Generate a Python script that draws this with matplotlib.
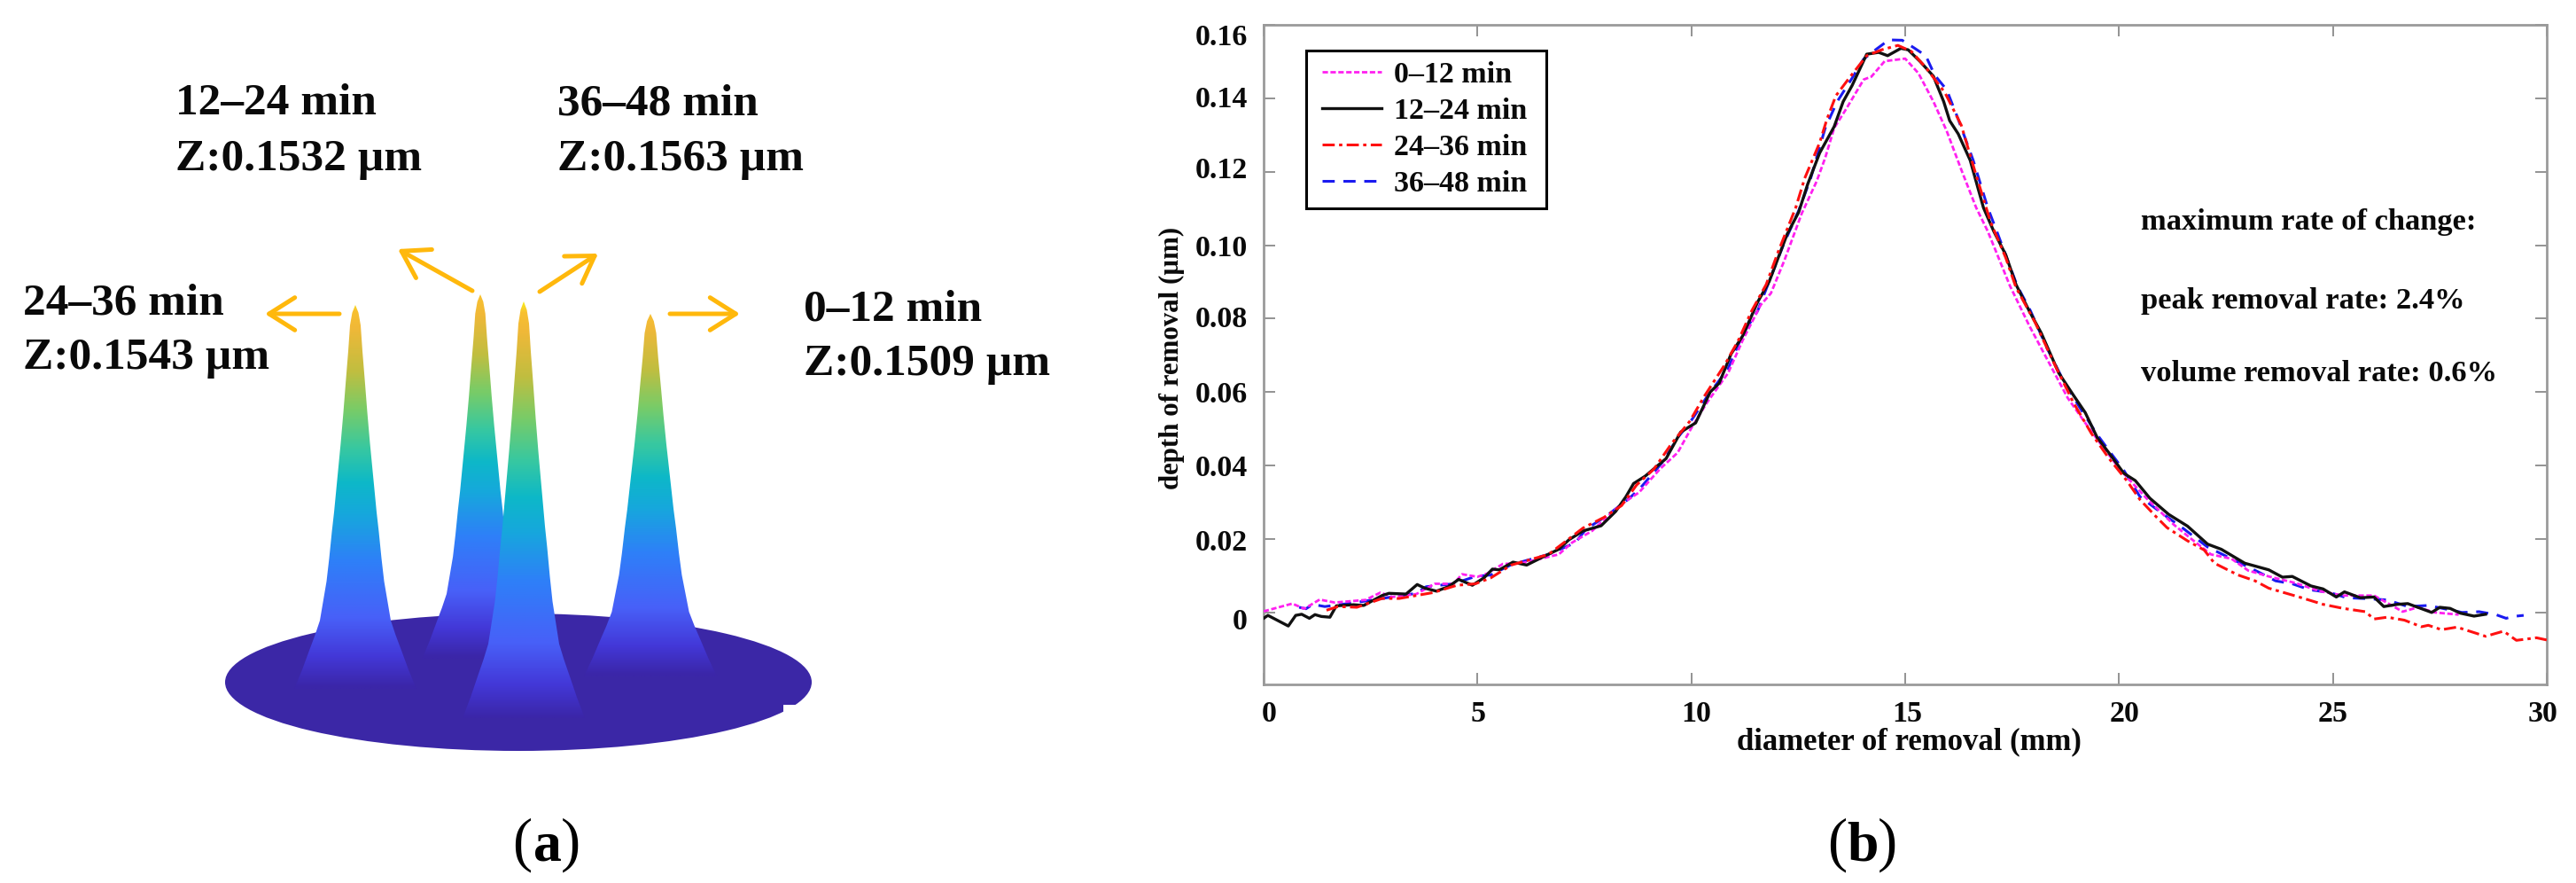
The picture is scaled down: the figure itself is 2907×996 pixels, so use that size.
import numpy as np
import matplotlib
matplotlib.use("Agg")
import matplotlib.pyplot as plt
from matplotlib.colors import LinearSegmentedColormap
from matplotlib.patches import Ellipse, Polygon, Rectangle
from matplotlib.transforms import ScaledTranslation

plt.rcParams['font.family'] = ['Liberation Serif', 'DejaVu Serif']
W, H = 2907, 996

# ---------- panel (b) data ----------
x_mag = [0,.67,.95,1.31,1.66,2.38,2.73,3.01,3.57,4.00,4.44,4.64,5.0,5.23,5.59,6.03,6.90,7.21,7.68,8.02,8.37,8.78,9.27,9.68,9.99,10.37,10.86,11.20,11.62,11.86,12.17,12.58,12.93,13.13,13.34,13.62,14.03,14.21,14.52,15.0,15.31,15.66,15.97,16.31,16.66,16.93,17.21,17.45,17.90,18.38,18.80,19.21,19.62,20.04,20.64,21.28,21.67,22.15,22.63,23.02,23.50,24.13,24.69,25.24,25.96,26.27,26.63,26.99,27.38,27.94]
y_mag = [.0003,.0024,.0010,.0035,.0027,.0034,.0054,.0042,.0050,.0078,.0078,.0104,.0097,.0106,.0132,.0134,.0158,.0190,.0222,.0259,.0295,.0327,.0391,.0435,.0500,.0572,.0652,.0741,.0837,.0869,.0957,.1086,.1174,.1238,.1319,.1371,.1451,.1459,.1501,.1508,.1468,.1391,.1311,.1206,.1102,.1038,.0958,.0889,.0781,.0676,.0584,.0516,.0451,.0387,.0311,.0239,.0202,.0158,.0146,.0114,.0098,.0080,.0058,.0046,.0046,.0026,.0002,.0014,0,-.0006]

x_blk = [0,.10,.577,.75,.89,1.07,1.20,1.35,1.55,1.70,2.10,2.34,2.77,2.93,3.33,3.59,3.77,4.04,4.32,4.56,4.88,5.15,5.35,5.51,5.83,6.15,6.58,6.90,7.14,7.47,7.89,8.23,8.47,8.65,8.92,9.41,9.75,10.10,10.44,10.65,10.93,11.20,11.55,11.82,12.24,12.51,12.72,13.00,13.34,13.55,13.76,14.10,14.38,14.59,14.90,15.07,15.35,15.66,15.90,16.04,16.24,16.52,16.83,17.07,17.35,17.59,17.90,18.18,18.59,18.93,19.21,19.49,19.76,20.11,20.38,20.72,21.16,21.60,22.07,22.39,22.94,23.50,23.82,24.05,24.49,24.77,25.08,25.27,25.64,25.96,26.19,26.51,26.75,27.31,27.50,27.74,27.98,28.30,28.57]
y_blk = [-.0016,-.0008,-.0037,-.0008,-.0005,-.0016,-.0006,-.0011,-.0013,.0018,.0021,.0019,.0046,.0052,.0050,.0076,.0066,.0058,.0070,.0090,.0074,.0094,.0118,.0116,.0137,.0129,.0154,.0172,.0198,.0222,.0236,.0275,.0315,.0351,.0371,.0419,.0491,.0516,.0600,.0624,.0704,.0753,.0845,.0901,.1030,.1090,.1166,.1251,.1323,.1391,.1435,.1520,.1525,.1516,.1536,.1532,.1500,.1460,.1391,.1339,.1303,.1231,.1102,.1038,.0974,.0893,.0821,.0761,.0652,.0592,.0544,.0476,.0435,.0379,.0359,.0311,.0267,.0235,.0186,.0172,.0134,.0116,.0096,.0098,.0072,.0064,.0042,.0056,.0040,.0042,.0016,.0022,.0024,.0000,.0014,.0011,-.0002,-.0010,-.0005]

x_red = [1.47,1.74,2.18,2.77,3.17,3.96,4.52,4.95,5.31,5.79,6.66,7.47,7.96,8.37,8.72,9.13,9.54,9.96,10.30,10.79,11.10,11.41,11.75,12.03,12.44,12.65,13.0,13.17,13.38,13.69,14.10,14.45,14.83,15.14,15.48,15.93,16.31,16.66,17.0,17.35,17.59,18.04,18.49,18.93,19.35,19.76,20.18,20.49,20.88,21.12,21.60,21.99,22.23,22.78,23.18,23.50,24.21,24.77,25.24,25.76,25.96,26.27,26.67,27.07,27.23,27.54,27.90,28.57,28.99,29.29,29.76,30]
y_red = [.0006,.0016,.0014,.0038,.0038,.0054,.0074,.0078,.0094,.0129,.0158,.0230,.0259,.0291,.0347,.0391,.0460,.0520,.0588,.0676,.0741,.0821,.0893,.0982,.1102,.1182,.1279,.1343,.1407,.1455,.1516,.1532,.1544,.1528,.1484,.1415,.1327,.1190,.1062,.0966,.0885,.0789,.0676,.0572,.0488,.0420,.0359,.0307,.0259,.0231,.0195,.0170,.0134,.0102,.0086,.0066,.0042,.0022,.0011,.0002,-.0018,-.0013,-.0021,-.0039,-.0035,-.0047,-.0040,-.0065,-.0051,-.0076,-.0069,-.0075]

x_blu = [.83,.99,1.15,1.43,2.10,2.77,3.57,3.80,4.44,4.95,5.31,5.79,6.66,7.29,7.54,8.02,8.51,8.78,9.34,9.68,9.96,10.37,10.86,11.20,11.55,12.17,12.51,12.79,13.13,13.41,13.76,14.03,14.34,14.62,14.93,15.21,15.48,15.69,15.97,16.24,16.59,16.93,17.14,17.62,17.93,18.31,18.73,19.07,19.49,19.80,20.11,20.49,21.04,21.52,22.07,22.63,23.26,23.66,24.05,24.45,24.93,25.32,25.72,26.27,26.75,27.23,28.02,28.42,28.81,29.05,29.21,29.46]
y_blu = [.0014,.0010,.0022,.0016,.0026,.0038,.0052,.0070,.0078,.0098,.0102,.0130,.0158,.0190,.0227,.0263,.0307,.0335,.0411,.0476,.0516,.0588,.0664,.0757,.0821,.1006,.1094,.1182,.1319,.1391,.1455,.1507,.1535,.1559,.1558,.1537,.1516,.1463,.1423,.1343,.1231,.1102,.1038,.0889,.0821,.0721,.0624,.0560,.0484,.0435,.0387,.0315,.0267,.0227,.0178,.0146,.0110,.0086,.0078,.0062,.0054,.0040,.0038,.0034,.0016,.0019,0,.0002,-.0006,-.0016,-.0011,-.0008]

labels = ['0–12 min', '12–24 min', '24–36 min', '36–48 min']
x_ticks = [0, 5, 10, 15, 20, 25, 30]
y_ticks = [0, .02, .04, .06, .08, .10, .12, .14, .16]
y_tick_labels = ['0', '0.02', '0.04', '0.06', '0.08', '0.10', '0.12', '0.14', '0.16']
notes = ['maximum rate of change:', 'peak removal rate: 2.4%', 'volume removal rate: 0.6%']

# ---------- panel (a) data ----------
peak_z = [0.1509, 0.1532, 0.1543, 0.1563]          # same order as labels
peak_cx = [734, 542, 401, 591]
peak_top = [354, 332, 344, 340]
peak_base = [763, 743, 777, 810]
peak_wscale = [1.09, 0.95, 1.0, 1.0]
profile_h = [0, .05, .10, .14, .178, .28, .34, .409, .46, .52, .58, .64, .72, .794, .88, .947, .98, 1.0]
profile_w = [69, 60, 52, 45.5, 40, 32.5, 29.5, 26.5, 24, 21.5, 19, 16.5, 13.5, 11, 8, 6, 3.5, 0]
draw_order = [1, 2, 0, 3]

parula = LinearSegmentedColormap.from_list('parula_like', [
    (0.00, '#3B26A8'), (0.08, '#4338D8'), (0.18, '#4860F8'), (0.33, '#2E80F8'),
    (0.45, '#16A8DC'), (0.53, '#0DB8C8'), (0.62, '#38C8A0'), (0.72, '#78CC68'),
    (0.82, '#C0BE40'), (0.93, '#F0B838'), (0.975, '#F8C030'), (1.00, '#F8EC1A')])

fig = plt.figure(figsize=(W / 100, H / 100), dpi=100, facecolor='white')

# pixel-coordinate canvas for the illustration and annotations
bg = fig.add_axes([0, 0, 1, 1])
bg.axis('off')

bg.add_patch(Ellipse((585, 769.5), 662, 155, fc='#3B27A6', ec='none', zorder=1))
bg.add_patch(Rectangle((884, 795), 32, 15, fc='white', ec='none', zorder=1.5))
zmax = max(peak_z)
for rank, i in enumerate(draw_order):
    cx, top, base, s = peak_cx[i], peak_top[i], peak_base[i], peak_wscale[i]
    hw = np.array(profile_w) * s
    py = base - np.array(profile_h) * (base - top)
    verts = np.r_[np.c_[cx - hw, py], np.c_[cx + hw, py][::-1]]
    grad = np.linspace(peak_z[i] / zmax, 0, 256).reshape(-1, 1)
    im = bg.imshow(grad, cmap=parula, vmin=0, vmax=1, aspect='auto', origin='upper',
                   extent=(cx - hw.max(), cx + hw.max(), base, top), zorder=2 + rank)
    clip = Polygon(verts, closed=True, transform=bg.transData, fc='none', ec='none')
    bg.add_patch(clip)
    im.set_clip_path(clip)

bg.set_xlim(0, W)
bg.set_ylim(H, 0)

arrow_col = '#FFB80C'
arrows = [((383, 354), (299, 354)), ((533, 328), (449, 281)),
          ((609, 329), (675, 286)), ((756, 354), (835, 354))]
for a, b in arrows:
    bg.annotate('', xy=b, xytext=a,
                arrowprops=dict(arrowstyle='->,head_length=0.95,head_width=0.6', color=arrow_col,
                                lw=3.6, shrinkA=0, shrinkB=0, mutation_scale=22))

big = dict(fontsize=37, fontweight='bold', color='#0a0a0a', va='baseline', ha='left')
callouts = [(907, 361, 423, 0), (198, 129, 192, 1), (26, 354, 416, 2), (629, 129, 192, 3)]
for tx, y1, y2, i in callouts:
    bg.text(tx, y1, labels[i], **big)
    bg.text(tx, y2, f'Z:{peak_z[i]:.4f} µm', **big)

panel = dict(color='black', va='baseline', ha='center', fontsize=48)
bg.text(589, 970, '(', fontweight='normal', **panel)
bg.text(618, 970, 'a', fontweight='bold', **{**panel, 'fontsize': 46})
bg.text(644, 970, ')', fontweight='normal', **panel)
bg.text(2073, 970, '(', fontweight='normal', **panel)
bg.text(2102, 970, 'b', fontweight='bold', **{**panel, 'fontsize': 46})
bg.text(2130, 970, ')', fontweight='normal', **panel)

# ---------- panel (b) ----------
L, R, T, B = 1426, 2874, 28, 772
ax = fig.add_axes([L / W, 1 - B / H, (R - L) / W, (B - T) / H])
ax.set_facecolor('none')
l1, = ax.plot(x_mag, y_mag, color='#FF20F0', lw=2.0, ls=(0, (2.2, 1.0)), zorder=3, label=labels[0])
l2, = ax.plot(x_blk, y_blk, color='#111111', lw=2.4, ls='-', zorder=4, label=labels[1])
l3, = ax.plot(x_red, y_red, color='#FF1010', lw=2.2, ls=(0, (4.5, 1.6, 1.2, 1.6)), zorder=5, label=labels[2])
l4, = ax.plot(x_blu, y_blu, color='#1A1AF0', lw=2.2, ls=(0, (4.5, 3.2)), zorder=2, label=labels[3])

ax.set_xlim(0, 30)
ax.set_ylim(-0.0196, 0.1597)
ax.set_xticks(x_ticks)
ax.set_yticks(y_ticks)
ax.set_yticklabels(y_tick_labels)
ax.tick_params(axis='both', direction='in', length=9.5, width=1.2, color='#808080',
               top=True, right=True, labelsize=24.5, labelcolor='#0a0a0a', pad=13)
for s in ax.spines.values():
    s.set_color('#9a9a9a')
    s.set_linewidth(2.0)

# hand-lettered labels in the source sit slightly off their ticks (pixels)
x_nudge = [6, 1, 6, 2, 6, 0, -4]
y_nudge = [7, 1, 0, 0, -2, 0, -5, -2, 11]
fig.canvas.draw()
for lab, dx in zip(ax.get_xticklabels(), x_nudge):
    lab.set_fontweight('bold')
    lab.set_transform(lab.get_transform() + ScaledTranslation(dx / 100, 0, fig.dpi_scale_trans))
for lab, dy in zip(ax.get_yticklabels(), y_nudge):
    lab.set_fontweight('bold')
    lab.set_transform(lab.get_transform() + ScaledTranslation(0, -dy / 100, fig.dpi_scale_trans))

bg.text(2154, 845, 'diameter of removal (mm)', fontsize=25, fontweight='bold',
        color='#0a0a0a', ha='center', va='baseline')
bg.text(1322, 404, 'depth of removal (µm)', fontsize=22.2, fontweight='bold',
        color='#0a0a0a', ha='center', va='center', rotation=90)
for ny, t in zip([259, 348, 430], notes):
    bg.text(2416, ny, t, fontsize=24.8, fontweight='bold', color='#0a0a0a', ha='left', va='baseline')

bg.add_patch(Rectangle((1474, 57), 271, 178, fc='white', ec='black', lw=2.2, zorder=6))
leg = ax.legend(handles=[l1, l2, l3, l4], loc='upper left',
                bbox_to_anchor=(1492, 69), bbox_transform=bg.transData, borderaxespad=0,
                frameon=False, prop=dict(family='Liberation Serif', weight='bold', size=24.5),
                handlelength=1.97, handletextpad=0.42, labelspacing=0.29, borderpad=0)
for t in leg.get_texts():
    t.set_color('#0a0a0a')

fig.savefig('out.png', dpi=100)
